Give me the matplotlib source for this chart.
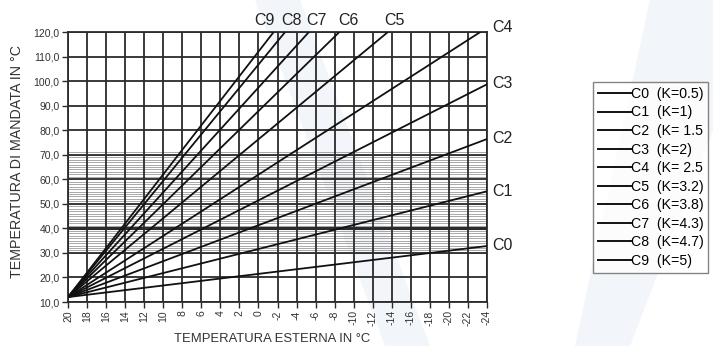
import matplotlib
matplotlib.use('Agg')
import matplotlib.pyplot as plt
from matplotlib.lines import Line2D
from matplotlib.patches import Polygon

plt.rcParams['font.family'] = ['Liberation Sans', 'DejaVu Sans']

# ── climatic curves: all start from the same point, end at the frame ──
curve_names = ['C0', 'C1', 'C2', 'C3', 'C4', 'C5', 'C6', 'C7', 'C8', 'C9']
k_labels = ['(K=0.5)', '(K=1)', '(K= 1.5', '(K=2)', '(K= 2.5',
            '(K=3.2)', '(K=3.8)', '(K=4.3)', '(K=4.7)', '(K=5)']
start_outdoor = 20.0
start_flow = 12.0
end_outdoor = [-24.0, -24.0, -24.0, -24.0, -23.3, -13.6, -8.5, -5.3, -2.8, -1.6]
end_flow = [32.8, 55.1, 76.4, 98.7, 120.0, 120.0, 120.0, 120.0, 120.0, 120.0]

x_ticks = [20, 18, 16, 14, 12, 10, 8, 6, 4, 2, 0, -2, -4, -6, -8, -10,
           -12, -14, -16, -18, -20, -22, -24]
x_tick_labels = ['20', '18', '16', '14', '12', '10', '8', '6', '4', '2', '0',
                 '-2', '-4', '-6', '-8', '-10', '-12', '-14', '-16', '-18',
                 '-20', '-22', '-24']
y_ticks = [10, 20, 30, 40, 50, 60, 70, 80, 90, 100, 110, 120]
y_tick_labels = ['10,0', '20,0', '30,0', '40,0', '50,0', '60,0', '70,0',
                 '80,0', '90,0', '100,0', '110,0', '120,0']
# fine hatching of the usual working band
hatch_levels = list(range(30, 72))

W, H = 713, 346
fig = plt.figure(figsize=(W / 100, H / 100), dpi=100)
fig.patch.set_facecolor('white')

# faint watermark shapes behind the chart
for pts in ([(255, 0), (300, 0), (430, 346), (385, 346)],
            [(650, 0), (713, 0), (713, 130), (630, 346), (575, 346)]):
    fig.patches.append(Polygon([(x / W, 1 - y / H) for x, y in pts],
                               closed=True, transform=fig.transFigure,
                               facecolor='#f2f5f9', edgecolor='none', zorder=-1))

ax = fig.add_axes([68 / W, 1 - 302 / H, (487 - 68) / W, (302 - 32) / H])
ax.set_facecolor('none')
ax.set_xlim(20, -24)
ax.set_ylim(10, 120)

# hatching
for lv in hatch_levels:
    ax.axhline(lv, color='#9a9a9a', lw=0.6, zorder=1)
# main grid
for xv in x_ticks:
    ax.axvline(xv, color='#2b2b2b', lw=1.3, zorder=2)
for yv in y_ticks:
    ax.axhline(yv, color='#2b2b2b', lw=2.2 if yv == 40 else 1.3, zorder=2)

# curves
for i in range(len(curve_names)):
    ax.plot([start_outdoor, end_outdoor[i]], [start_flow, end_flow[i]],
            color='#111111', lw=1.3, zorder=3, solid_capstyle='butt')

# curve tags: top row for steep curves, right column for the others
top_tag_x = {'C9': -0.6, 'C8': -3.5, 'C7': -6.05, 'C6': -9.5, 'C5': -14.3}
for name, xv in top_tag_x.items():
    ax.text(xv, 124.6, name, ha='center', va='center', fontsize=11.5,
            color='#222222', clip_on=False)
for name, yv in [('C4', 122.0), ('C3', 98.9), ('C2', 76.5), ('C1', 55.0), ('C0', 33.0)]:
    ax.text(-24.6, yv, name, ha='left', va='center', fontsize=11.5,
            color='#222222', clip_on=False)

for s in ax.spines.values():
    s.set_color('#2b2b2b')
    s.set_linewidth(1.3)

ax.set_xticks(x_ticks)
ax.set_xticklabels(x_tick_labels, rotation=90, fontsize=7.5, color='#333333')
ax.set_yticks(y_ticks)
ax.set_yticklabels(y_tick_labels, fontsize=7.5, color='#333333')
ax.tick_params(direction='out', length=4, width=1, color='#2b2b2b', pad=2)

ax.set_xlabel('TEMPERATURA ESTERNA IN °C', fontsize=9.4, color='#333333')
ax.xaxis.set_label_coords(0.487, -0.115)
ax.set_ylabel('TEMPERATURA DI MANDATA IN °C', fontsize=10.3, color='#333333')
ax.yaxis.set_label_coords(-0.105, 0.52)

handles = [Line2D([], [], color='#111111', lw=1.4) for _ in curve_names]
labels = [f'{n}  {k}' for n, k in zip(curve_names, k_labels)]
fig.legend(handles, labels, loc='upper left',
           bbox_to_anchor=(593 / W, 1 - 82 / H), frameon=True, fancybox=False,
           edgecolor='#666666', fontsize=10.2, handlelength=2.3,
           handletextpad=0.0, labelspacing=0.32, borderpad=0.35,
           borderaxespad=0.0)

fig.savefig('out.png', dpi=100, facecolor='white')
